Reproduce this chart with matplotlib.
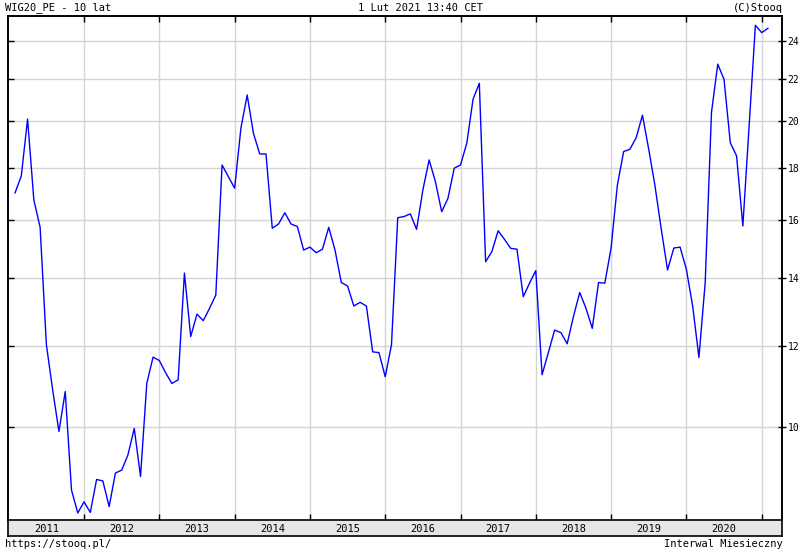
import numpy as np
import matplotlib
matplotlib.use("Agg")
import matplotlib.pyplot as plt
from matplotlib.ticker import FixedLocator, NullLocator, FixedFormatter

# monthly WIG20 P/E, end of month, Jan 2011 .. Jan 2021
pe_values = [
    17.0, 17.67, 20.1, 16.73, 15.72, 12.04, 10.87, 9.89, 10.83, 8.66, 8.22, 8.43,
    8.23, 8.87, 8.84, 8.34, 9.0, 9.06, 9.38, 9.96, 8.93, 11.03, 11.71, 11.62,
    11.3, 11.03, 11.12, 14.17, 12.27, 12.91, 12.72, 13.08, 13.48, 18.11, 17.64, 17.18,
    19.69, 21.23, 19.46, 18.57, 18.57, 15.69, 15.84, 16.25, 15.84, 15.75, 14.93, 15.03,
    14.84, 14.96, 15.72, 14.93, 13.87, 13.76, 13.15, 13.26, 13.15, 11.85, 11.83, 11.2,
    12.04, 16.07, 16.11, 16.21, 15.65, 17.11, 18.32, 17.44, 16.29, 16.79, 17.98, 18.11,
    19.03, 21.03, 21.8, 14.54, 14.88, 15.6, 15.3, 14.99, 14.96, 13.43, 13.85, 14.25,
    11.25, 11.83, 12.45, 12.38, 12.07, 12.84, 13.56, 13.08, 12.5, 13.87, 13.85, 15.0,
    17.3, 18.67, 18.77, 19.27, 20.28, 18.77, 17.27, 15.65, 14.27, 15.0, 15.03, 14.29,
    13.15, 11.7, 13.87, 20.4, 22.77, 22.0, 19.05, 18.49, 15.77, 19.79, 24.87, 24.46,
    24.7,
]
months = 2011 + (np.arange(len(pe_values)) + 1) / 12.0

years = list(range(2011, 2021))
year_lines = list(range(2012, 2022))
y_ticks = [10, 12, 14, 16, 18, 20, 22, 24]

W, H = 800, 550
x_lo, x_hi = 2010.99, 2021.27
y_lo, y_hi = 8.09, 25.4
mono = "DejaVu Sans Mono"
fs = 7.5

fig = plt.figure(figsize=(8, 5.5), dpi=100)
ax = fig.add_axes([8 / W, 30 / H, 774 / W, 504 / H])
ax.plot(months, pe_values, color="#0000ff", lw=1.0)
ax.set_yscale("log")
ax.set_xlim(x_lo, x_hi)
ax.set_ylim(y_lo, y_hi)

ax.yaxis.set_major_locator(FixedLocator(y_ticks))
ax.yaxis.set_major_formatter(FixedFormatter([str(v) for v in y_ticks]))
ax.yaxis.set_minor_locator(NullLocator())
ax.xaxis.set_major_locator(FixedLocator(year_lines))
ax.xaxis.set_minor_locator(NullLocator())
ax.grid(True, color="#d4d4d4", lw=1.0)

ax.tick_params(axis="x", which="both", direction="in", top=True, bottom=True,
               labelbottom=False, length=4, width=1, color="black")
ax.tick_params(axis="y", which="both", left=True, right=False, direction="in",
               labelleft=False, labelright=False, length=4, width=1)

# right side: ticks across the spine with labels
ax2 = ax.twinx()
ax2.set_yscale("log")
ax2.set_ylim(y_lo, y_hi)
ax2.yaxis.set_major_locator(FixedLocator(y_ticks))
ax2.yaxis.set_major_formatter(FixedFormatter([str(v) for v in y_ticks]))
ax2.yaxis.set_minor_locator(NullLocator())
ax2.tick_params(axis="y", direction="inout", length=6, width=1, pad=1, labelsize=7)
for t in ax2.get_yticklabels():
    t.set_fontfamily(mono)

for a in (ax, ax2):
    for s in a.spines.values():
        s.set_linewidth(1.2)
        s.set_color("black")
    a.spines["bottom"].set_visible(False)

# year band under the plot
band = fig.add_axes([8 / W, 14 / H, 774 / W, 16 / H])
band.set_facecolor("#e6e6e6")
band.set_xlim(x_lo, x_hi)
band.set_ylim(0, 1)
band.set_xticks([])
band.set_yticks([])
for s in band.spines.values():
    s.set_linewidth(1.2)
for yr in years:
    band.text(yr + 0.5, 0.45, str(yr), ha="center", va="center",
              fontsize=fs, family=mono)

fig.text(5 / W, 1 - 8 / H, "WIG20_PE - 10 lat", ha="left", va="center",
         fontsize=fs, family=mono)
fig.text(420 / W, 1 - 8 / H, "1 Lut 2021 13:40 CET", ha="center", va="center",
         fontsize=fs, family=mono)
fig.text(783 / W, 1 - 8 / H, "(C)Stooq", ha="right", va="center",
         fontsize=fs, family=mono)
fig.text(5 / W, 1 - 544 / H, "https://stooq.pl/", ha="left", va="center",
         fontsize=fs, family=mono)
fig.text(783 / W, 1 - 544 / H, "Interwal Miesieczny", ha="right", va="center",
         fontsize=fs, family=mono)

fig.savefig("out.png", dpi=100)
plt.close(fig)
